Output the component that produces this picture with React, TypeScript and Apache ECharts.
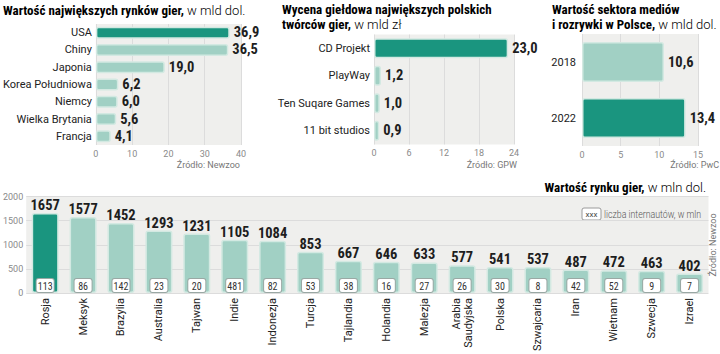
import React, { useEffect, useRef } from "react";
import * as echarts from "echarts";

const marketCats = ["USA", "Chiny", "Japonia", "Korea Południowa", "Niemcy", "Wielka Brytania", "Francja"];
const marketVals = [36.9, 36.5, 19.0, 6.2, 6.0, 5.6, 4.1];
const marketTicks = { min: 0, max: 40, interval: 10 };

const studioCats = ["CD Projekt", "PlayWay", "Ten Suqare Games", "11 bit studios"];
const studioVals = [23.0, 1.2, 1.0, 0.9];
const studioTicks = { min: 0, max: 24, interval: 6 };

const mediaCats = ["2018", "2022"];
const mediaVals = [10.6, 13.4];
const mediaTicks = { min: 0, max: 15, interval: 5 };

const countries = [
  "Rosja", "Meksyk", "Brazylia", "Australia", "Tajwan", "Indie", "Indonezja", "Turcja", "Tajlandia",
  "Holandia", "Malezja", "Arabia\nSaudyjska", "Polska", "Szwajcaria", "Iran", "Wietnam", "Szwecja", "Izrael",
];
const countryVals = [1657, 1577, 1452, 1293, 1231, 1105, 1084, 853, 667, 646, 633, 577, 541, 537, 487, 472, 463, 402];
const internetUsers = [113, 86, 142, 23, 20, 481, 82, 53, 38, 16, 27, 26, 30, 8, 42, 52, 9, 7];
const countryTicks = { min: 0, max: 2000, interval: 500 };

const DARK = "#1a957f";
const LIGHT = "#a1d0c4";
const BG = "#efefed";
const GRIDLINE = "#dcdcdc";
const COND = "'Roboto Condensed', 'Liberation Sans Narrow', 'DejaVu Sans Condensed', Roboto, sans-serif";
const SANS = "Roboto, 'Noto Sans', sans-serif";

const fmt = (v: number) => v.toFixed(1).replace(".", ",");

function valueAxis(gridIndex: number, t: { min: number; max: number; interval: number }) {
  return {
    gridIndex,
    type: "value",
    min: t.min,
    max: t.max,
    interval: t.interval,
    axisLine: { show: false },
    axisTick: { show: false },
    splitLine: { show: true, lineStyle: { color: GRIDLINE, width: 1 } },
    axisLabel: { fontSize: 9, color: "#8a8a8a", margin: 4, fontFamily: SANS },
  };
}

function catAxis(gridIndex: number, data: string[], margin: number) {
  return {
    gridIndex,
    type: "category",
    data,
    inverse: true,
    axisLine: { show: false },
    axisTick: { show: false },
    axisLabel: { fontSize: 11, color: "#222", margin, fontFamily: SANS },
  };
}

function hbar(idx: number, vals: number[], hi: number, barWidth: number) {
  return {
    type: "bar",
    xAxisIndex: idx,
    yAxisIndex: idx,
    barWidth,
    data: vals.map((v, i) => ({
      value: v,
      itemStyle: { color: i === hi ? DARK : LIGHT },
    })),
    itemStyle: { borderColor: "#d3e9e2", borderWidth: 1.5, borderRadius: 2 },
    label: {
      show: true,
      position: "right",
      distance: 4,
      formatter: (p: any) => fmt(p.value),
      fontSize: 14.5,
      fontWeight: "bold",
      color: "#1e1e1e",
      fontFamily: COND,
    },
  };
}

const titleRich = {
  b: { fontSize: 13, fontWeight: "bold", color: "#1e1e1e", fontFamily: COND },
  r: { fontSize: 13, color: "#555", fontFamily: SANS, fontWeight: 300 },
};

function titleText(x: number, y: number, text: string, align = "left") {
  return {
    type: "text",
    x,
    y,
    style: { text, rich: titleRich, align, verticalAlign: "middle" },
  };
}

function srcText(x: number, y: number, text: string) {
  return {
    type: "text",
    x,
    y,
    style: { text, align: "right", verticalAlign: "middle", fontSize: 9, fill: "#777", fontFamily: SANS },
  };
}

export default function App() {
  const ref = useRef<HTMLDivElement>(null);
  useEffect(() => {
    if (!ref.current) return;
    const chart = echarts.init(ref.current, undefined, { renderer: "svg" });
    chart.setOption({
      animation: false,
      backgroundColor: "#ffffff",
      grid: [
        { left: 87.5, top: 24, width: 153.5, height: 121, show: true, backgroundColor: BG, borderWidth: 0 },
        { left: 374, top: 34.5, width: 140, height: 110, show: true, backgroundColor: BG, borderWidth: 0 },
        { left: 582, top: 34, width: 116, height: 112, show: true, backgroundColor: BG, borderWidth: 0 },
        { left: 21.5, top: 196.5, width: 687, height: 103.5, show: true, backgroundColor: BG, borderWidth: 0 },
      ],
      xAxis: [
        valueAxis(0, marketTicks),
        valueAxis(1, studioTicks),
        valueAxis(2, mediaTicks),
        {
          gridIndex: 3,
          type: "category",
          data: countries,
          axisLine: { show: false },
          axisTick: { show: false },
          axisLabel: { rotate: 90, interval: 0, fontSize: 11, color: "#222", margin: 5, fontFamily: SANS, lineHeight: 12 },
        },
      ],
      yAxis: [
        catAxis(0, marketCats, 4),
        catAxis(1, studioCats, 4),
        catAxis(2, mediaCats, 6),
        {
          gridIndex: 3,
          type: "value",
          min: countryTicks.min,
          max: countryTicks.max,
          interval: countryTicks.interval,
          axisLine: { show: false },
          axisTick: { show: false },
          splitLine: { show: true, lineStyle: { color: GRIDLINE, width: 1 } },
          axisLabel: { fontSize: 9, color: "#8a8a8a", margin: 3, fontFamily: SANS, formatter: (v: number) => String(v) },
        },
      ],
      series: [
        hbar(0, marketVals, 0, 12),
        hbar(1, studioVals, 0, 20),
        hbar(2, mediaVals, 1, 40),
        {
          type: "bar",
          xAxisIndex: 3,
          yAxisIndex: 3,
          barWidth: 27,
          data: countryVals.map((v, i) => ({ value: v, itemStyle: { color: i === 0 ? DARK : LIGHT } })),
          itemStyle: { borderColor: "#d3e9e2", borderWidth: 1.5, borderRadius: 2 },
          label: {
            show: true,
            position: "top",
            distance: 0,
            fontSize: 14.5,
            fontWeight: "bold",
            color: "#1e1e1e",
            fontFamily: COND,
          },
        },
        {
          type: "bar",
          xAxisIndex: 3,
          yAxisIndex: 3,
          barWidth: 27,
          barGap: "-100%",
          silent: true,
          data: countryVals,
          itemStyle: { color: "rgba(0,0,0,0)" },
          label: {
            show: true,
            position: "insideBottom",
            distance: 1,
            formatter: (p: any) => String(internetUsers[p.dataIndex]),
            fontSize: 10,
            color: "#333",
            fontFamily: COND,
            backgroundColor: "#ffffff",
            borderColor: "#9aa8a4",
            borderWidth: 1,
            borderRadius: 2,
            width: 15,
            align: "center",
            padding: [2, 1, 1, 1],
          },
        },
      ],
      graphic: [
        titleText(3, 10, "{b|Wartość największych rynków gier,}{r| w mld dol.}"),
        titleText(282, 9, "{b|Wycena giełdowa największych polskich}"),
        titleText(282, 24, "{b|twórców gier,}{r| w mld zł}"),
        titleText(552, 9, "{b|Wartość sektora mediów}"),
        titleText(552, 24, "{b|i rozrywki w Polsce,}{r| w mld dol.}"),
        titleText(706, 187, "{b|Wartość rynku gier,}{r| w mln dol.}", "right"),
        srcText(240, 165, "Źródło: Newzoo"),
        srcText(517, 165, "Źródło: GPW"),
        srcText(719, 165, "Źródło: PwC"),
        {
          type: "text",
          x: 713,
          y: 245,
          rotation: Math.PI / 2,
          style: { text: "Źródło: Newzoo", align: "center", verticalAlign: "middle", fontSize: 9, fill: "#777", fontFamily: SANS },
        },
        {
          type: "rect",
          shape: { x: 582, y: 208, width: 19, height: 12, r: 2 },
          style: { fill: "#ffffff", stroke: "#9a9a9a", lineWidth: 1 },
        },
        {
          type: "text",
          x: 591.5,
          y: 214,
          style: { text: "xxx", align: "center", verticalAlign: "middle", fontSize: 8, fill: "#444", fontFamily: SANS },
        },
        {
          type: "text",
          x: 604,
          y: 214.5,
          scaleX: 0.8,
          style: { text: "liczba internautów, w mln", align: "left", verticalAlign: "middle", fontSize: 11, fill: "#555", fontFamily: SANS, fontWeight: 300 },
        },
      ],
    });
    return () => chart.dispose();
  }, []);
  return <div ref={ref} style={{ position: "fixed", left: 0, top: 0, width: 720, height: 354 }} />;
}
